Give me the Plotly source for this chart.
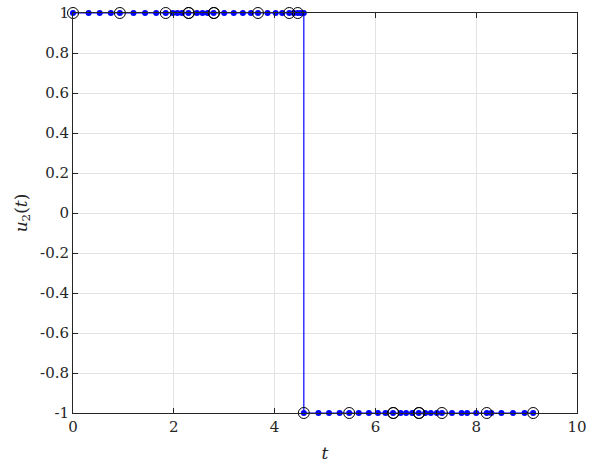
import plotly.graph_objects as go

# Collocation points (blue dots) and mesh points (black circles)
t_top = [0.0, 0.31, 0.53, 0.75, 0.93, 1.20, 1.43, 1.65, 1.84, 1.98, 2.07, 2.16,
         2.29, 2.46, 2.57, 2.67, 2.79, 3.00, 3.19, 3.37, 3.53, 3.67, 3.86, 4.02,
         4.15, 4.29, 4.38, 4.46, 4.52, 4.58]
u_top = [1.0] * len(t_top)
t_bot = [4.58, 4.87, 5.08, 5.29, 5.48, 5.67, 5.87, 6.05, 6.20, 6.35, 6.50, 6.61,
         6.73, 6.86, 6.99, 7.10, 7.22, 7.32, 7.52, 7.71, 7.82, 8.00, 8.21, 8.30,
         8.50, 8.73, 8.96, 9.13]
u_bot = [-1.0] * len(t_bot)

mesh_top = [0.0, 0.93, 1.84, 2.29, 2.30, 2.79, 2.80, 3.67, 4.29, 4.46]
mesh_bot = [4.58, 5.48, 6.35, 6.36, 6.86, 6.87, 7.32, 8.21, 9.13]

x_ticks = [0, 2, 4, 6, 8, 10]
y_ticks = [1, 0.8, 0.6, 0.4, 0.2, 0, -0.2, -0.4, -0.6, -0.8, -1]
y_labels = ["1", "0.8", "0.6", "0.4", "0.2", "0", "-0.2", "-0.4", "-0.6", "-0.8", "-1"]

SERIF = "DejaVu Serif"

fig = go.Figure()
fig.add_trace(go.Scatter(
    x=t_top + t_bot, y=u_top + u_bot, mode="lines+markers",
    line=dict(color="rgb(0,0,255)", width=1.2),
    marker=dict(color="rgb(0,0,255)", size=6, line=dict(width=0)),
    showlegend=False, cliponaxis=False))
fig.add_trace(go.Scatter(
    x=mesh_top + mesh_bot, y=[1.0] * len(mesh_top) + [-1.0] * len(mesh_bot),
    mode="markers",
    marker=dict(symbol="circle-open", color="black", size=11, line=dict(width=1)),
    showlegend=False, cliponaxis=False))

fig.update_layout(
    width=605, height=466,
    margin=dict(l=73, r=28, t=13, b=53),
    paper_bgcolor="white", plot_bgcolor="white",
    font=dict(family=SERIF, size=15, color="#262626"),
    xaxis=dict(range=[0, 10], tickvals=x_ticks, ticktext=[str(v) for v in x_ticks],
               tickfont=dict(family=SERIF, size=15, color="#262626"),
               automargin=False,
               showgrid=True, gridcolor="#e3e3e3", gridwidth=1,
               showline=True, linecolor="#262626", linewidth=1, mirror="ticks",
               ticks="inside", ticklen=5, tickcolor="#262626", zeroline=False,
               title=dict(text="<i>t</i>", font=dict(family=SERIF, size=17),
                          standoff=12)),
    yaxis=dict(range=[-1, 1], tickvals=y_ticks, ticktext=y_labels,
               tickfont=dict(family=SERIF, size=15, color="#262626"),
               automargin=False,
               showgrid=True, gridcolor="#e3e3e3", gridwidth=1,
               showline=True, linecolor="#262626", linewidth=1, mirror="ticks",
               ticks="inside", ticklen=5, tickcolor="#262626", zeroline=False,
               title=dict(text="<i>u</i><sub>2</sub>(<i>t</i>)",
                          font=dict(family=SERIF, size=17), standoff=8)),
)
fig.write_html("out.html")
